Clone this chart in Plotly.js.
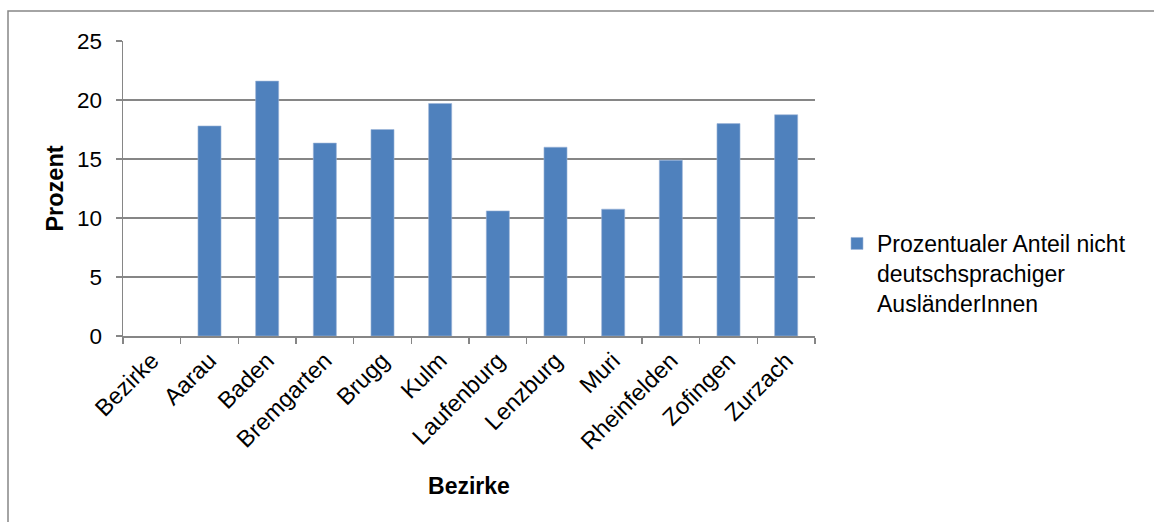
<!DOCTYPE html>
<html>
<head>
<meta charset="utf-8">
<script src="https://cdn.plot.ly/plotly-3.0.1.min.js"></script>
<style>html,body{margin:0;padding:0;background:#fff;}#chart{width:1154px;height:522px;}</style>
</head>
<body>
<div id="chart"></div>
<script>
const categories = ["Bezirke", "Aarau", "Baden", "Bremgarten", "Brugg", "Kulm", "Laufenburg", "Lenzburg", "Muri", "Rheinfelden", "Zofingen", "Zurzach"];
const values = [null, 17.8, 21.6, 16.35, 17.5, 19.7, 10.6, 16.0, 10.75, 14.9, 18.0, 18.75];
const seriesName = "Prozentualer Anteil nicht<br>deutschsprachiger<br>AusländerInnen";
const yTicks = [0, 5, 10, 15, 20, 25];

const W = 1154, H = 522;
const L = 123, R = 815, T = 41, B = 336;
const pw = R - L, ph = B - T;
const px = v => (v - L) / pw;
const py = v => (B - v) / ph;

const font = "Liberation Sans, Arial, sans-serif";
const gray = "#868686";

const trace = {
  type: "bar",
  x: categories,
  y: values,
  name: seriesName,
  marker: {color: "#4F81BD", line: {color: "#9db6d8", width: 0.6}},
  showlegend: true
};

const layout = {
  width: W, height: H,
  margin: {l: L, r: W - R, t: T, b: H - B, pad: 0},
  paper_bgcolor: "#fff",
  plot_bgcolor: "#fff",
  font: {family: font, color: "#000", size: 22},
  bargap: 0.6,
  showlegend: true,
  xaxis: {
    type: "category",
    tickangle: -45,
    ticks: "outside",
    tickson: "boundaries",
    ticklen: 6,
    tickcolor: gray,
    tickwidth: 1.3,
    showline: true,
    linecolor: gray,
    linewidth: 1.5,
    showgrid: false,
    tickfont: {family: font, size: 23.5, color: "#000"},
    title: {text: "<b>Bezirke</b>", font: {family: font, size: 23, color: "#000"}, standoff: 24}
  },
  yaxis: {
    range: [0, 25],
    tickvals: yTicks,
    ticks: "outside",
    ticklen: 6,
    tickcolor: gray,
    tickwidth: 1.3,
    showline: true,
    linecolor: gray,
    linewidth: 1.5,
    showgrid: true,
    gridcolor: gray,
    gridwidth: 1.3,
    zeroline: false,
    ticklabelstandoff: 9,
    tickfont: {family: font, size: 22.5, color: "#000"},
    title: {text: "<b>Prozent</b>", font: {family: font, size: 23.5, color: "#000"}, standoff: 6}
  },
  legend: {
    x: px(837), xanchor: "left",
    y: py(222), yanchor: "top",
    valign: "top",
    font: {family: font, size: 23, color: "#000"},
    bgcolor: "rgba(0,0,0,0)",
    borderwidth: 0,
    tracegroupgap: 0
  },
  shapes: [{
    type: "rect", xref: "paper", yref: "paper",
    x0: px(8), x1: px(1170), y0: py(11), y1: py(540),
    line: {color: gray, width: 1.5},
    fillcolor: "rgba(0,0,0,0)",
    layer: "below"
  }]
};

Plotly.newPlot("chart", [trace], layout, {displayModeBar: false, staticPlot: true});
</script>
</body>
</html>
